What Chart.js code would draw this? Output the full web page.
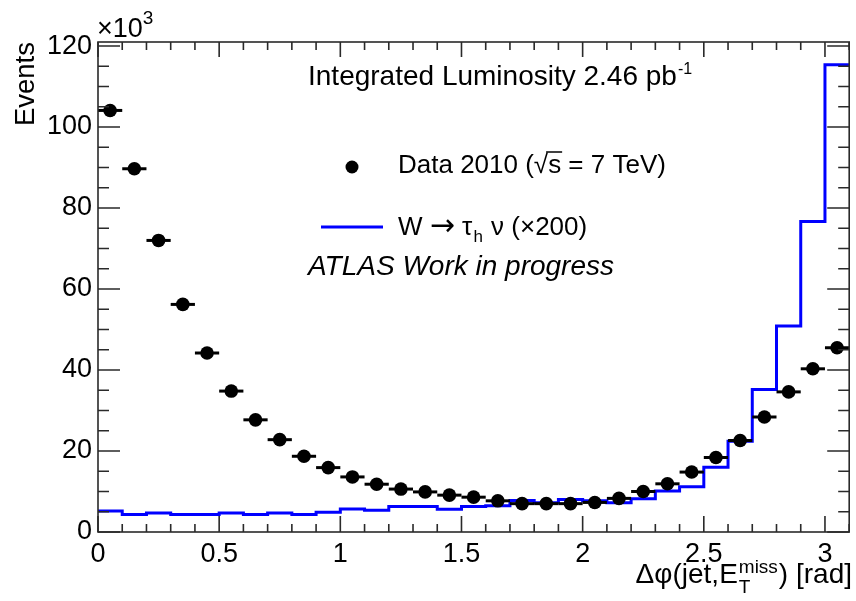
<!DOCTYPE html>
<html>
<head>
<meta charset="utf-8">
<script src="https://cdn.jsdelivr.net/npm/chart.js@4.4.1/dist/chart.umd.min.js"></script>
<style>
  html, body { margin: 0; padding: 0; background: #ffffff; }
  canvas { display: block; }
</style>
</head>
<body>
<canvas id="plot" width="856" height="601"></canvas>
<script>
// Δφ(jet, E_T^miss) distribution, event counts in units of 10^3
const binCenters = [0.05, 0.15, 0.25, 0.35, 0.45, 0.55, 0.65, 0.75, 0.85, 0.95,
                    1.05, 1.15, 1.25, 1.35, 1.45, 1.55, 1.65, 1.75, 1.85, 1.95,
                    2.05, 2.15, 2.25, 2.35, 2.45, 2.55, 2.65, 2.75, 2.85, 2.95, 3.05];
const dataEvents = [104.1, 89.7, 72.0, 56.2, 44.2, 34.8, 27.7, 22.8, 18.7, 15.9,
                    13.6, 11.8, 10.6, 9.9, 9.1, 8.6, 7.7, 7.0, 7.0, 7.0,
                    7.3, 8.3, 10.0, 11.9, 14.8, 18.4, 22.6, 28.4, 34.6, 40.3, 45.5];
const binHalfWidth = 0.05;

// W -> tau_h nu simulation (scaled x200), histogram bins
const binEdges = [0.0, 0.1, 0.2, 0.3, 0.4, 0.5, 0.6, 0.7, 0.8, 0.9,
                  1.0, 1.1, 1.2, 1.3, 1.4, 1.5, 1.6, 1.7, 1.8, 1.9,
                  2.0, 2.1, 2.2, 2.3, 2.4, 2.5, 2.6, 2.7, 2.8, 2.9, 3.0, 3.1];
const signalEvents = [5.2, 4.3, 4.7, 4.3, 4.3, 4.7, 4.3, 4.7, 4.3, 4.9,
                      5.7, 5.4, 6.3, 6.3, 5.6, 6.3, 6.5, 7.8, 7.2, 8.0,
                      7.7, 7.2, 8.2, 10.1, 11.2, 16.0, 22.4, 35.2, 50.9, 76.7, 115.4];

const xTickValues = [0, 0.5, 1, 1.5, 2, 2.5, 3];
const yTickValues = [0, 20, 40, 60, 80, 100, 120];
const xMin = 0, xMax = 3.1, yMin = 0, yMax = 121;
const xMinorStep = 0.1, yMinorStep = 5;

const FONT = "'Liberation Sans', Arial, Helvetica, sans-serif";
const SYMBOL_FONT = "'DejaVu Sans', sans-serif";

// Step outline: one point per left bin edge, closing at the last right edge
const signalPoints = signalEvents.map((v, i) => ({ x: binEdges[i], y: v }));
signalPoints.push({ x: binEdges[binEdges.length - 1], y: signalEvents[signalEvents.length - 1] });
const dataPoints = dataEvents.map((v, i) => ({ x: binCenters[i], y: v }));

// Horizontal bin-width bars on the data points
const errorBars = {
  id: 'errorBars',
  afterDatasetsDraw(chart) {
    const { ctx, scales: { x, y } } = chart;
    ctx.save();
    ctx.strokeStyle = '#000';
    ctx.lineWidth = 3;
    dataEvents.forEach((v, i) => {
      const py = y.getPixelForValue(v);
      ctx.beginPath();
      ctx.moveTo(x.getPixelForValue(binCenters[i] - binHalfWidth), py);
      ctx.lineTo(x.getPixelForValue(binCenters[i] + binHalfWidth), py);
      ctx.stroke();
    });
    ctx.restore();
  }
};

// Frame with inward ticks on all four sides
const frameTicks = {
  id: 'frameTicks',
  afterDraw(chart) {
    const { ctx, chartArea: a, scales: { x, y } } = chart;
    ctx.save();
    ctx.strokeStyle = '#2a2a2a';
    ctx.lineWidth = 1.6;
    ctx.strokeRect(a.left, a.top, a.right - a.left, a.bottom - a.top);
    ctx.beginPath();
    const nx = Math.round((xMax - xMin) / xMinorStep);
    for (let i = 0; i <= nx; i++) {
      const v = xMin + i * xMinorStep;
      const px = x.getPixelForValue(v);
      const major = xTickValues.some(t => Math.abs(t - v) < 1e-6);
      ctx.moveTo(px, a.bottom); ctx.lineTo(px, a.bottom - (major ? 16 : 8));
      ctx.moveTo(px, a.top); ctx.lineTo(px, a.top + (major ? 15 : 8));
    }
    for (let v = yMin; v <= yMax; v += yMinorStep) {
      const py = y.getPixelForValue(v);
      const major = yTickValues.includes(v);
      ctx.moveTo(a.left, py); ctx.lineTo(a.left + (major ? 22 : 11), py);
      ctx.moveTo(a.right, py); ctx.lineTo(a.right - (major ? 22 : 11), py);
    }
    ctx.stroke();
    ctx.restore();
  }
};

// Titles, legend and annotations
const annotations = {
  id: 'annotations',
  afterDraw(chart) {
    const { ctx, chartArea: a } = chart;
    ctx.save();
    ctx.fillStyle = '#000';
    ctx.textBaseline = 'alphabetic';
    ctx.textAlign = 'left';

    // axis multiplier
    ctx.font = `27px ${FONT}`;
    ctx.fillText('×10', 97, 37);
    const wMul = ctx.measureText('×10').width;
    ctx.font = `19px ${FONT}`;
    ctx.fillText('3', 97 + wMul, 24);

    // y title
    ctx.save();
    ctx.translate(34, a.top);
    ctx.rotate(-Math.PI / 2);
    ctx.font = `27.5px ${FONT}`;
    ctx.textAlign = 'right';
    ctx.fillText('Events', 0, 0);
    ctx.restore();

    // x title
    ctx.font = `28px ${FONT}`;
    const p1 = 'Δφ(jet,E', p3 = ') [rad]';
    const w1 = ctx.measureText(p1).width;
    const w3 = ctx.measureText(p3).width;
    ctx.font = `19px ${FONT}`;
    const wSup = Math.max(ctx.measureText('miss').width, ctx.measureText('T').width);
    const xRight = 852, base = 583;
    const x0 = xRight - (w1 + wSup + 2 + w3);
    ctx.font = `28px ${FONT}`;
    ctx.fillText(p1, x0, base);
    ctx.font = `19px ${FONT}`;
    ctx.fillText('miss', x0 + w1 + 1, base - 10);
    ctx.fillText('T', x0 + w1 + 1, base + 10);
    ctx.font = `28px ${FONT}`;
    ctx.fillText(p3, x0 + w1 + wSup + 2, base);

    // luminosity
    ctx.font = `28px ${FONT}`;
    const lum = 'Integrated Luminosity 2.46 pb';
    ctx.fillText(lum, 308, 85);
    const wLum = ctx.measureText(lum).width;
    ctx.font = `16px ${FONT}`;
    ctx.fillText('-1', 308 + wLum + 1, 74);

    // legend: data
    ctx.beginPath();
    ctx.arc(352, 167, 6.5, 0, Math.PI * 2);
    ctx.fill();
    ctx.font = `26px ${FONT}`;
    const dataLabel = 'Data 2010 (√s = 7 TeV)';
    ctx.fillText(dataLabel, 398, 173);
    const wPre = ctx.measureText('Data 2010 (√').width;
    const wS = ctx.measureText('s').width;
    ctx.strokeStyle = '#000';
    ctx.lineWidth = 1.5;
    ctx.beginPath();
    ctx.moveTo(398 + wPre - 2, 173 - 21);
    ctx.lineTo(398 + wPre + wS + 1, 173 - 21);
    ctx.stroke();

    // legend: signal
    ctx.strokeStyle = '#0000ff';
    ctx.lineWidth = 3;
    ctx.beginPath();
    ctx.moveTo(321, 227);
    ctx.lineTo(383, 227);
    ctx.stroke();
    let cx = 398;
    ctx.font = `26px ${FONT}`;
    ctx.fillText('W ', cx, 235);
    cx += ctx.measureText('W ').width;
    ctx.font = `30px ${SYMBOL_FONT}`;
    ctx.fillText('→', cx, 235);
    cx += ctx.measureText('→').width;
    ctx.font = `26px ${FONT}`;
    ctx.fillText(' τ', cx, 235);
    cx += ctx.measureText(' τ').width;
    ctx.font = `17px ${FONT}`;
    ctx.fillText('h', cx + 1, 242);
    cx += ctx.measureText('h').width + 2;
    ctx.font = `26px ${FONT}`;
    ctx.fillText(' ν (×200)', cx, 235);

    // label
    ctx.font = `italic 28px ${FONT}`;
    ctx.fillText('ATLAS Work in progress', 308, 275);

    ctx.restore();
  }
};

new Chart(document.getElementById('plot'), {
  type: 'scatter',
  data: {
    datasets: [
      {
        label: 'Data 2010 (√s = 7 TeV)',
        data: dataPoints,
        order: 0,
        showLine: false,
        pointRadius: 6.8,
        pointBackgroundColor: '#000',
        pointBorderColor: '#000',
        pointBorderWidth: 0,
        pointHoverRadius: 6.8
      },
      {
        label: 'W → τh ν (×200)',
        data: signalPoints,
        order: 1,
        showLine: true,
        stepped: 'before',
        borderColor: '#0000ff',
        borderWidth: 3,
        pointRadius: 0,
        pointHoverRadius: 0,
        fill: false
      }
    ]
  },
  options: {
    responsive: false,
    animation: false,
    devicePixelRatio: 1,
    layout: { padding: { top: 42, right: 4, left: 0, bottom: 0 } },
    plugins: { legend: { display: false }, tooltip: { enabled: false } },
    scales: {
      x: {
        type: 'linear',
        min: xMin,
        max: xMax,
        grid: { display: false, drawTicks: false },
        border: { display: false },
        ticks: {
          font: { family: FONT, size: 27 },
          color: '#000',
          padding: 6,
          maxRotation: 0,
          autoSkip: false,
          callback: v => String(v)
        },
        afterBuildTicks: s => { s.ticks = xTickValues.map(v => ({ value: v })); },
        afterFit: s => { s.height = 601 - 532; }
      },
      y: {
        type: 'linear',
        min: yMin,
        max: yMax,
        grid: { display: false, drawTicks: false },
        border: { display: false },
        ticks: {
          font: { family: FONT, size: 27 },
          color: '#000',
          padding: 6,
          autoSkip: false,
          callback: v => String(v)
        },
        afterBuildTicks: s => { s.ticks = yTickValues.map(v => ({ value: v })); },
        afterFit: s => { s.width = 98; }
      }
    }
  },
  plugins: [errorBars, frameTicks, annotations]
});
</script>
</body>
</html>
